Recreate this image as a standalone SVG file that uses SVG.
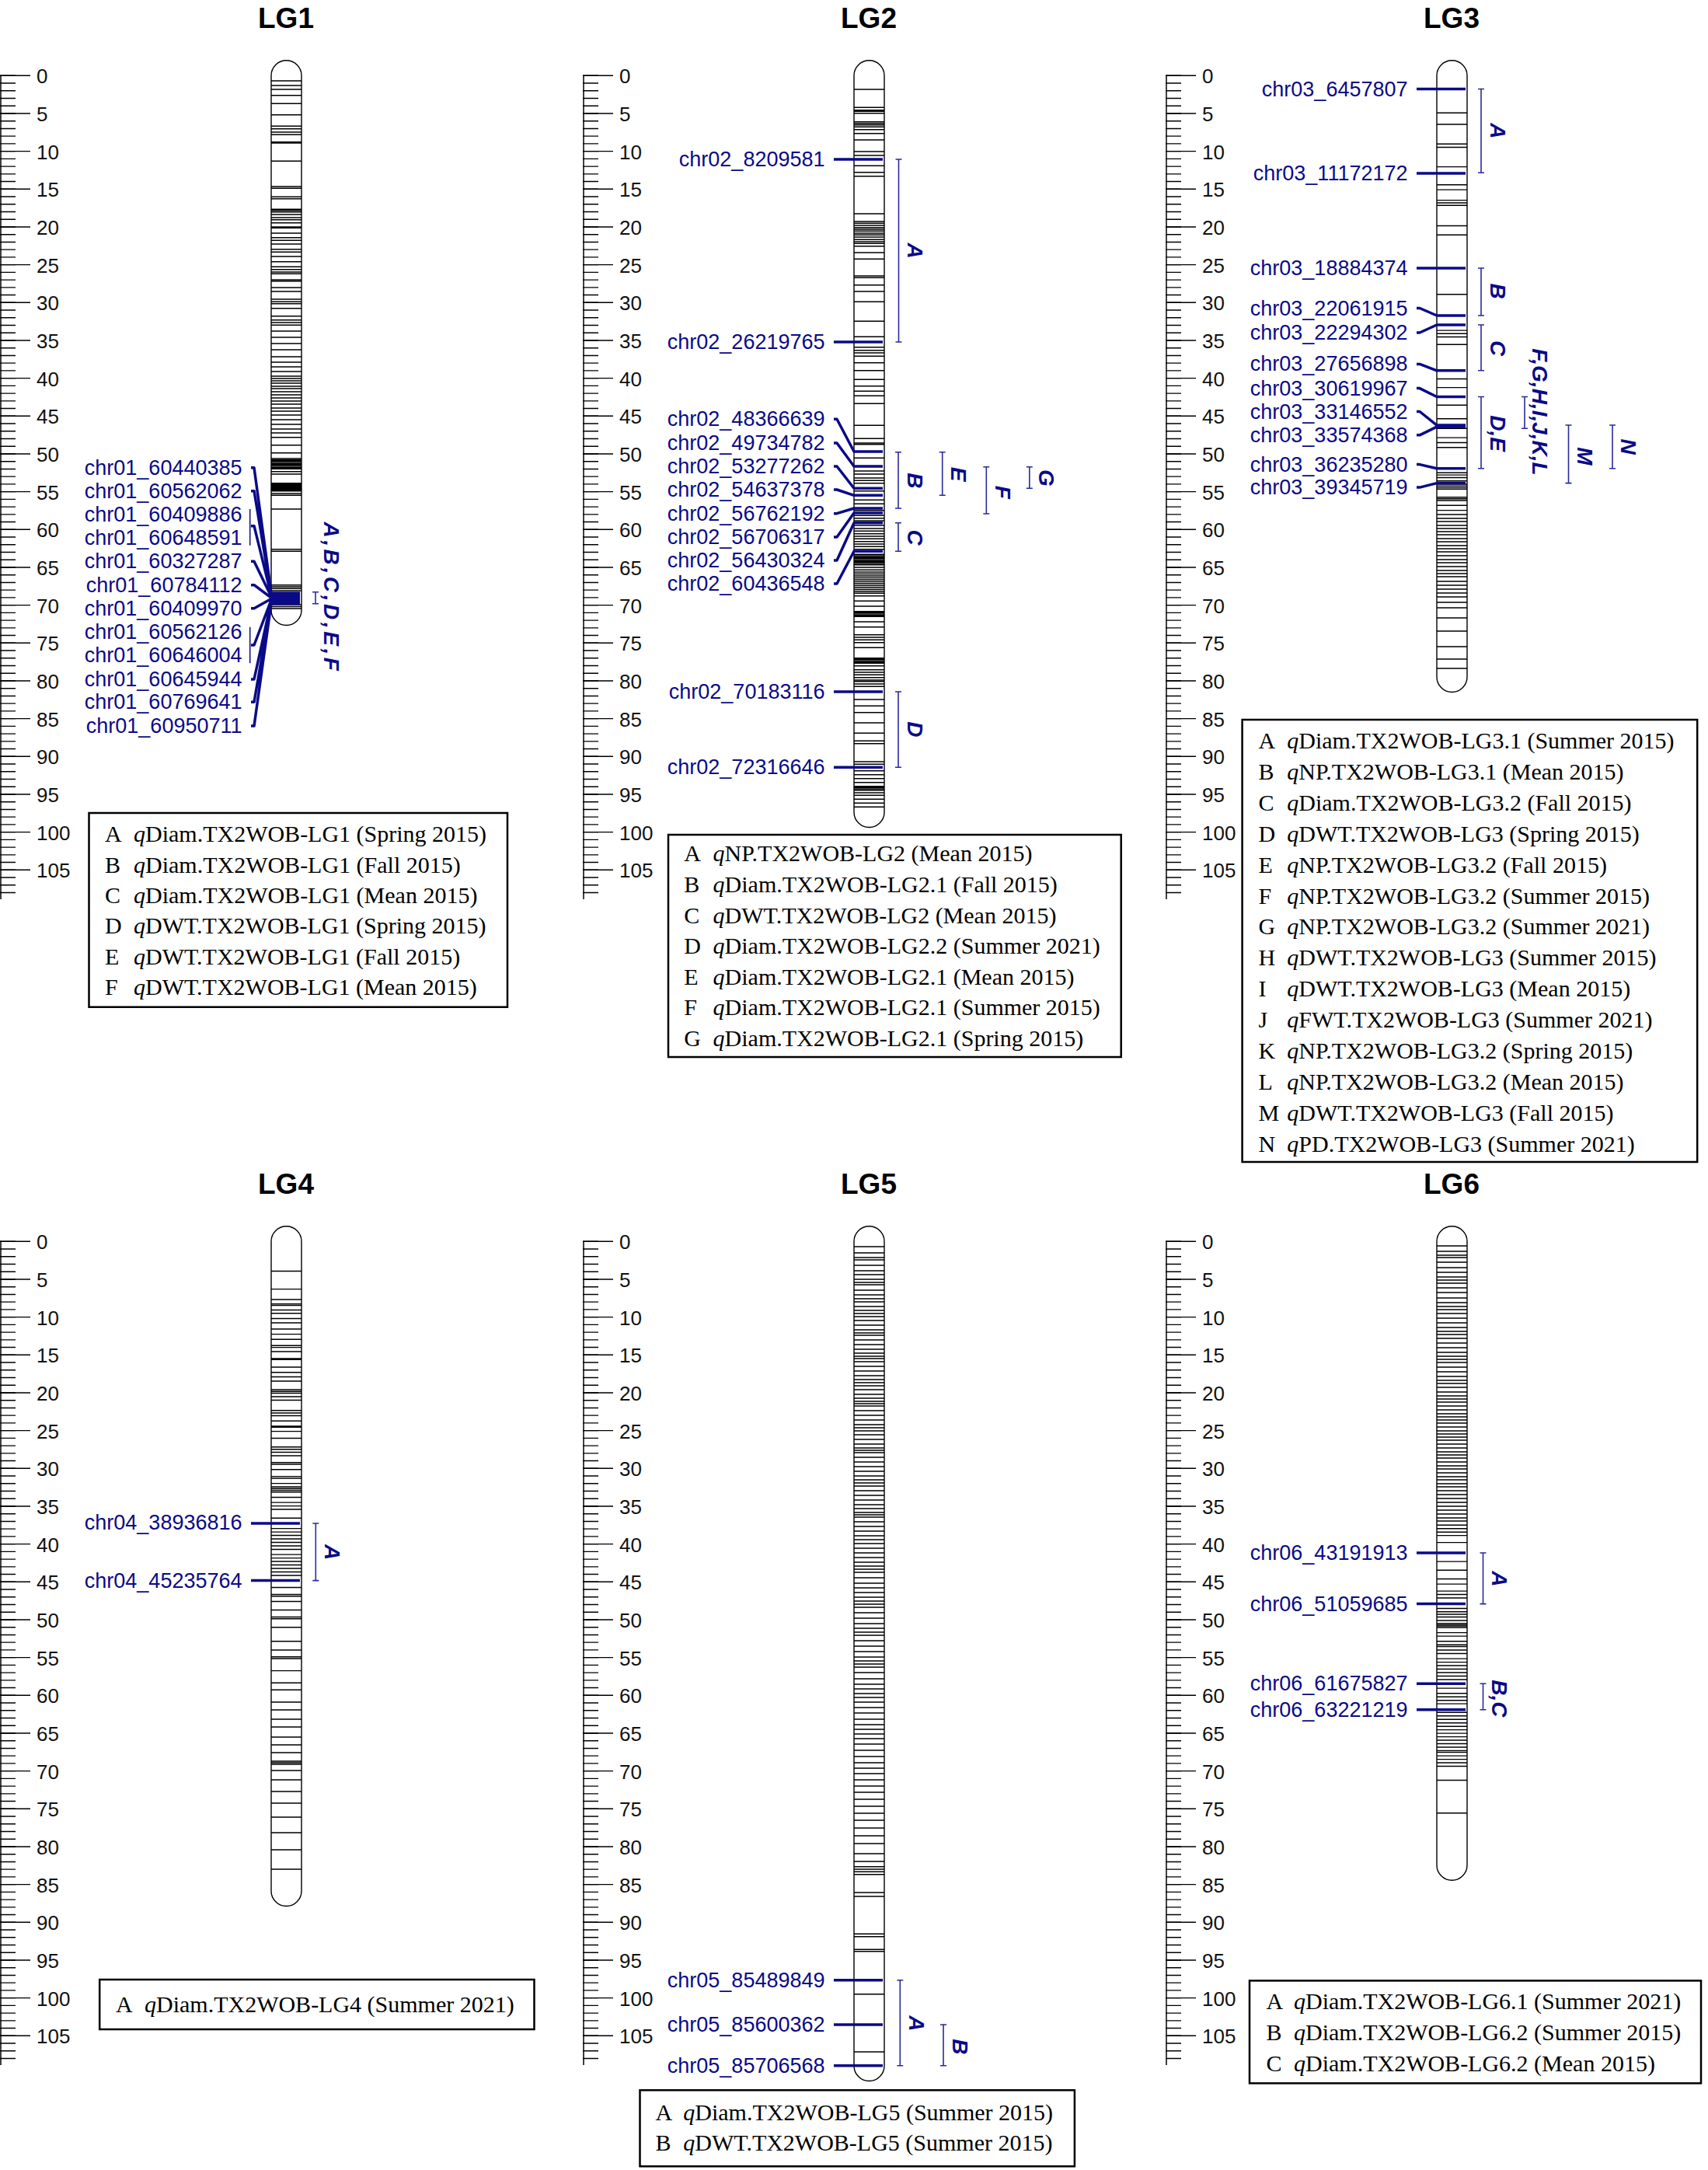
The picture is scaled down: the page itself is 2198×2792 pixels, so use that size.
<svg xmlns="http://www.w3.org/2000/svg" width="2198" height="2792" viewBox="0 0 2198 2792">
<style>
.ttl{font-family:'Liberation Sans',Arial,sans-serif;font-weight:bold;font-size:37px;text-anchor:middle;fill:#000}
.rl{font-family:'Liberation Sans',Arial,sans-serif;font-size:26px;fill:#111}
.axis{stroke:#000;stroke-width:1.5;fill:none}
.minor{stroke:#000;stroke-width:20;stroke-dasharray:1.4 8.3333;fill:none}
.major{stroke:#000;stroke-width:39;stroke-dasharray:1.4 47.2667;fill:none}
.chr{fill:#fff;stroke:#000;stroke-width:1.4}
.band{stroke:#000;stroke-width:1.45;fill:none}
.mk{font-family:'Liberation Sans',Arial,sans-serif;font-size:27px;fill:#0a0a88;text-anchor:end}
.con{stroke:#0a0a88;stroke-width:3.5;fill:none;stroke-linejoin:round}
.thin{stroke:#0a0a88;stroke-width:1.5;fill:none}
.br{stroke:#2a2a9e;stroke-width:1.6;fill:none}
.ql{font-family:'Liberation Sans',Arial,sans-serif;font-weight:bold;font-style:italic;font-size:28px;fill:#0a0a88;text-anchor:middle}
.box{fill:#fff;stroke:#000;stroke-width:2.5}
.lg{font-family:'Liberation Serif','Times New Roman',serif;font-size:30px;fill:#000}
.it{font-style:italic}
</style>
<rect width="2198" height="2792" fill="#fff"/>

<!-- ================= LG1 ================= -->
<g id="LG1" transform="translate(0,0)">
<g id="lg1-scale">
<path class="axis" d="M1 97.3V1157"/><line class="minor" x1="10" y1="96.6" x2="10" y2="1150"/><line class="major" x1="19.5" y1="96.6" x2="19.5" y2="1125"/>
<text class="rl" x="47" y="107.3">0</text><text class="rl" x="47" y="156">5</text><text class="rl" x="47" y="204.6">10</text><text class="rl" x="47" y="253.3">15</text><text class="rl" x="47" y="302">20</text><text class="rl" x="47" y="350.6">25</text><text class="rl" x="47" y="399.3">30</text><text class="rl" x="47" y="448">35</text><text class="rl" x="47" y="496.6">40</text><text class="rl" x="47" y="545.3">45</text><text class="rl" x="47" y="594">50</text><text class="rl" x="47" y="642.6">55</text><text class="rl" x="47" y="691.3">60</text><text class="rl" x="47" y="740">65</text><text class="rl" x="47" y="788.6">70</text><text class="rl" x="47" y="837.3">75</text><text class="rl" x="47" y="886">80</text><text class="rl" x="47" y="934.6">85</text><text class="rl" x="47" y="983.3">90</text><text class="rl" x="47" y="1032">95</text><text class="rl" x="47" y="1080.6">100</text><text class="rl" x="47" y="1129.3">105</text>
</g>
<text class="ttl" x="368" y="36">LG1</text>
<g id="lg1-chromosome">
<path class="chr" d="M349 97.3V785A19.5 19.5 0 0 0 388 785V97.3A19.5 19.5 0 0 0 349 97.3Z"/>
<path class="band" d="M349 104h39M349 110h39M349 115h39M349 122.7h39M349 133.3h39M349 147.7h39M349 162.3h39M349 165.7h39M349 170h39M349 173.3h39M349 182.7h39M349 184h39M349 207.3h39M349 240h39M349 242.3h39M349 253.3h39M349 255.7h39M349 269.3h39M349 270.7h39M349 272.7h39M349 276h39M349 280h39M349 282.7h39M349 286.7h39M349 292h39M349 293.3h39M349 300h39M349 305.7h39M349 309.3h39M349 314h39M349 320.7h39M349 324.3h39M349 330h39M349 336.7h39M349 343.3h39M349 346.7h39M349 350h39M349 352.3h39M349 360h39M349 361.7h39M349 370h39M349 375h39M349 385h39M349 388.3h39M349 390.7h39M349 396.7h39M349 406.7h39M349 411.7h39M349 415h39M349 418.3h39M349 426h39M349 434h39M349 442h39M349 450h39M349 459h39M349 466h39M349 472h39M349 478h39M349 484h39M349 487h39M349 490h39M349 493h39M349 497h39M349 500h39M349 504h39M349 508h39M349 512h39M349 516h39M349 520h39M349 525h39M349 529h39M349 534h39M349 540h39M349 546h39M349 552h39M349 557h39M349 562.7h39M349 572.7h39M349 582.7h39M349 590h39M349 591.7h39M349 593.3h39M349 595h39M349 596.7h39M349 598.3h39M349 600h39M349 601.7h39M349 603.3h39M349 606.7h39M349 610h39M349 621.7h39M349 623.2h39M349 624.7h39M349 626.2h39M349 627.7h39M349 629.2h39M349 630.7h39M349 631.7h39M349 635h39M349 637.3h39M349 655h39M349 706.7h39M349 709.3h39M349 752.7h39M349 755h39M349 757.3h39M349 760h39M349 778h39M349 780.5h39M349 783h39"/>
</g>
<g id="lg1-markers">
<text class="mk" x="311.5" y="610.7">chr01_60440385</text><text class="mk" x="311.5" y="640.7">chr01_60562062</text><text class="mk" x="311.5" y="670.7">chr01_60409886</text><text class="mk" x="311.5" y="700.7">chr01_60648591</text><text class="mk" x="311.5" y="731.3">chr01_60327287</text><text class="mk" x="311.5" y="761.7">chr01_60784112</text><text class="mk" x="311.5" y="791.7">chr01_60409970</text><text class="mk" x="311.5" y="822.3">chr01_60562126</text><text class="mk" x="311.5" y="852.3">chr01_60646004</text><text class="mk" x="311.5" y="883">chr01_60645944</text><text class="mk" x="311.5" y="912.3">chr01_60769641</text><text class="mk" x="311.5" y="943">chr01_60950711</text>
</g>
<g id="lg1-connectors">
<path class="thin" d="M321.7 655V701.7M321.7 806.7V853.3"/>
<path class="con" d="M323 601.7H327L349 763H386M323 631.7H327L349 764.5H386M323 676.7H327L349 766H386M323 722.3H327L349 767.5H386M323 752.7H327L349 769H386M323 782.7H327L349 770.5H386M323 830H327L349 772H386M323 874H327L349 773.5H386M323 903.3H327L349 775H386M323 934H327L349 776.5H386"/>
</g>
<g id="lg1-qtl">
<path class="br" d="M402 761.7h8M406 761.7V776.7M402 776.7h8"/>
<text class="ql" x="417" y="769" letter-spacing="3.6" transform="rotate(90 417 769)">A,B,C,D,E,F</text>
</g>
<g id="lg1-legend">
<rect class="box" x="114.5" y="1046" width="538.5" height="249.7"/>
<text class="lg" x="135" y="1083.3">A</text><text class="lg" x="172" y="1083.3"><tspan class="it">q</tspan>Diam.TX2WOB-LG1 (Spring 2015)</text>
<text class="lg" x="135" y="1122.6">B</text><text class="lg" x="172" y="1122.6"><tspan class="it">q</tspan>Diam.TX2WOB-LG1 (Fall 2015)</text>
<text class="lg" x="135" y="1161.9">C</text><text class="lg" x="172" y="1161.9"><tspan class="it">q</tspan>Diam.TX2WOB-LG1 (Mean 2015)</text>
<text class="lg" x="135" y="1201.2">D</text><text class="lg" x="172" y="1201.2"><tspan class="it">q</tspan>DWT.TX2WOB-LG1 (Spring 2015)</text>
<text class="lg" x="135" y="1240.5">E</text><text class="lg" x="172" y="1240.5"><tspan class="it">q</tspan>DWT.TX2WOB-LG1 (Fall 2015)</text>
<text class="lg" x="135" y="1279.8">F</text><text class="lg" x="172" y="1279.8"><tspan class="it">q</tspan>DWT.TX2WOB-LG1 (Mean 2015)</text>
</g>
</g>

<!-- ================= LG2 ================= -->
<g id="LG2" transform="translate(750,0)">
<g id="lg2-scale">
<path class="axis" d="M1 97.3V1157"/><line class="minor" x1="10" y1="96.6" x2="10" y2="1150"/><line class="major" x1="19.5" y1="96.6" x2="19.5" y2="1125"/>
<text class="rl" x="47" y="107.3">0</text><text class="rl" x="47" y="156">5</text><text class="rl" x="47" y="204.6">10</text><text class="rl" x="47" y="253.3">15</text><text class="rl" x="47" y="302">20</text><text class="rl" x="47" y="350.6">25</text><text class="rl" x="47" y="399.3">30</text><text class="rl" x="47" y="448">35</text><text class="rl" x="47" y="496.6">40</text><text class="rl" x="47" y="545.3">45</text><text class="rl" x="47" y="594">50</text><text class="rl" x="47" y="642.6">55</text><text class="rl" x="47" y="691.3">60</text><text class="rl" x="47" y="740">65</text><text class="rl" x="47" y="788.6">70</text><text class="rl" x="47" y="837.3">75</text><text class="rl" x="47" y="886">80</text><text class="rl" x="47" y="934.6">85</text><text class="rl" x="47" y="983.3">90</text><text class="rl" x="47" y="1032">95</text><text class="rl" x="47" y="1080.6">100</text><text class="rl" x="47" y="1129.3">105</text>
</g>
<text class="ttl" x="368" y="36">LG2</text>
<g id="lg2-chromosome">
<path class="chr" d="M349 97.3V1045A19.5 19.5 0 0 0 388 1045V97.3A19.5 19.5 0 0 0 349 97.3Z"/>
<path class="band" d="M349 115h39M349 138.3h39M349 141.7h39M349 143.3h39M349 145.7h39M349 156.7h39M349 158.7h39M349 160.7h39M349 163.3h39M349 166.7h39M349 171.7h39M349 180h39M349 195h39M349 200h39M349 213.3h39M349 221.7h39M349 226.7h39M349 275h39M349 285h39M349 287.3h39M349 290h39M349 292.7h39M349 295h39M349 297.3h39M349 300h39M349 302.3h39M349 305h39M349 308.3h39M349 311h39M349 313.3h39M349 316.7h39M349 325h39M349 333.3h39M349 355h39M349 357.3h39M349 366.7h39M349 375h39M349 388.3h39M349 413.3h39M349 433.3h39M349 446.7h39M349 450.7h39M349 454h39M349 458.3h39M349 466.7h39M349 476.7h39M349 488.3h39M349 496.7h39M349 503.3h39M349 509.3h39M349 519.3h39M349 547.3h39M349 564.3h39M349 570h39M349 571.7h39M349 589.3h39M349 606h39M349 610h39M349 615h39M349 618.3h39M349 621.7h39M349 631.7h39M349 643.3h39M349 648.3h39M349 656.7h39M349 663.3h39M349 666.7h39M349 670h39M349 676h39M349 680h39M349 683.3h39M349 686.7h39M349 690h39M349 693.3h39M349 696.7h39M349 700h39M349 703.3h39M349 706.7h39M349 713.3h39M349 715h39M349 716.7h39M349 718.3h39M349 720h39M349 721.7h39M349 723.3h39M349 725h39M349 726.7h39M349 730h39M349 733.3h39M349 736h39M349 738.5h39M349 741h39M349 743.5h39M349 746h39M349 748.5h39M349 751h39M349 753.5h39M349 756h39M349 758.5h39M349 761h39M349 763.3h39M349 766.7h39M349 773.3h39M349 780h39M349 786.7h39M349 788.3h39M349 790h39M349 791.7h39M349 793.3h39M349 800h39M349 806.7h39M349 816.7h39M349 820h39M349 823.3h39M349 826.7h39M349 833.3h39M349 846.7h39M349 848.3h39M349 850h39M349 851.7h39M349 853.3h39M349 856.7h39M349 861.7h39M349 865h39M349 868.3h39M349 871.7h39M349 875h39M349 876.7h39M349 880h39M349 883.3h39M349 900h39M349 908.3h39M349 916.7h39M349 930h39M349 943.3h39M349 953.3h39M349 956.7h39M349 980h39M349 983.3h39M349 991.7h39M349 996.7h39M349 1001.7h39M349 1006.7h39M349 1011.7h39M349 1013.3h39M349 1015h39M349 1016.7h39M349 1020h39M349 1023.3h39M349 1028.3h39M349 1033.3h39M349 1038.3h39"/>
</g>
<g id="lg2-markers">
<text class="mk" x="311.5" y="214">chr02_8209581</text><text class="mk" x="311.5" y="449">chr02_26219765</text><text class="mk" x="311.5" y="548.3">chr02_48366639</text><text class="mk" x="311.5" y="579">chr02_49734782</text><text class="mk" x="311.5" y="609">chr02_53277262</text><text class="mk" x="311.5" y="639">chr02_54637378</text><text class="mk" x="311.5" y="669.7">chr02_56762192</text><text class="mk" x="311.5" y="700">chr02_56706317</text><text class="mk" x="311.5" y="730">chr02_56430324</text><text class="mk" x="311.5" y="760">chr02_60436548</text><text class="mk" x="311.5" y="899">chr02_70183116</text><text class="mk" x="311.5" y="996.3">chr02_72316646</text>
</g>
<g id="lg2-connectors">
<path class="con" d="M323 205H386M323 440H386M323 539.3H327L349 581H386M323 570H327L349 600H386M323 600H327L349 628.3H386M323 630H327L349 637.3H386M323 660.7H327L349 654H386M323 691H327L349 660H386M323 721H327L349 672.7H386M323 751H327L349 709.3H386M323 890H386M323 987.3H386"/>
</g>
<g id="lg2-qtl">
<path class="br" d="M402.5 205h8M406.5 205V440M402.5 440h8M402 581.7h8M406 581.7V654M402 654h8M402 672.7h8M406 672.7V709.3M402 709.3h8M402 890h8M406 890V987.3M402 987.3h8M458.7 581.7h8M462.7 581.7V637.3M458.7 637.3h8M515.3 600.7h8M519.3 600.7V661M515.3 661h8M570.8 600.7h8M574.8 600.7V628.3M570.8 628.3h8"/>
<text class="ql" x="418" y="322.5" transform="rotate(90 418 322.5)">A</text>
<text class="ql" x="417.5" y="618.3" transform="rotate(90 417.5 618.3)">B</text>
<text class="ql" x="417.5" y="691.7" transform="rotate(90 417.5 691.7)">C</text>
<text class="ql" x="417.5" y="938.3" transform="rotate(90 417.5 938.3)">D</text>
<text class="ql" x="474" y="610" transform="rotate(90 474 610)">E</text>
<text class="ql" x="531" y="633.3" transform="rotate(90 531 633.3)">F</text>
<text class="ql" x="586.5" y="615" transform="rotate(90 586.5 615)">G</text>
</g>
<g id="lg2-legend">
<rect class="box" x="110" y="1074" width="582.7" height="286"/>
<text class="lg" x="130.2" y="1108.3">A</text><text class="lg" x="167.6" y="1108.3"><tspan class="it">q</tspan>NP.TX2WOB-LG2 (Mean 2015)</text>
<text class="lg" x="130.2" y="1147.9">B</text><text class="lg" x="167.6" y="1147.9"><tspan class="it">q</tspan>Diam.TX2WOB-LG2.1 (Fall 2015)</text>
<text class="lg" x="130.2" y="1187.5">C</text><text class="lg" x="167.6" y="1187.5"><tspan class="it">q</tspan>DWT.TX2WOB-LG2 (Mean 2015)</text>
<text class="lg" x="130.2" y="1227.1">D</text><text class="lg" x="167.6" y="1227.1"><tspan class="it">q</tspan>Diam.TX2WOB-LG2.2 (Summer 2021)</text>
<text class="lg" x="130.2" y="1266.7">E</text><text class="lg" x="167.6" y="1266.7"><tspan class="it">q</tspan>Diam.TX2WOB-LG2.1 (Mean 2015)</text>
<text class="lg" x="130.2" y="1306.3">F</text><text class="lg" x="167.6" y="1306.3"><tspan class="it">q</tspan>Diam.TX2WOB-LG2.1 (Summer 2015)</text>
<text class="lg" x="130.2" y="1345.9">G</text><text class="lg" x="167.6" y="1345.9"><tspan class="it">q</tspan>Diam.TX2WOB-LG2.1 (Spring 2015)</text>
</g>
</g>

<!-- ================= LG3 ================= -->
<g id="LG3" transform="translate(1500,0)">
<g id="lg3-scale">
<path class="axis" d="M1 97.3V1157"/><line class="minor" x1="10" y1="96.6" x2="10" y2="1150"/><line class="major" x1="19.5" y1="96.6" x2="19.5" y2="1125"/>
<text class="rl" x="47" y="107.3">0</text><text class="rl" x="47" y="156">5</text><text class="rl" x="47" y="204.6">10</text><text class="rl" x="47" y="253.3">15</text><text class="rl" x="47" y="302">20</text><text class="rl" x="47" y="350.6">25</text><text class="rl" x="47" y="399.3">30</text><text class="rl" x="47" y="448">35</text><text class="rl" x="47" y="496.6">40</text><text class="rl" x="47" y="545.3">45</text><text class="rl" x="47" y="594">50</text><text class="rl" x="47" y="642.6">55</text><text class="rl" x="47" y="691.3">60</text><text class="rl" x="47" y="740">65</text><text class="rl" x="47" y="788.6">70</text><text class="rl" x="47" y="837.3">75</text><text class="rl" x="47" y="886">80</text><text class="rl" x="47" y="934.6">85</text><text class="rl" x="47" y="983.3">90</text><text class="rl" x="47" y="1032">95</text><text class="rl" x="47" y="1080.6">100</text><text class="rl" x="47" y="1129.3">105</text>
</g>
<text class="ttl" x="368" y="36">LG3</text>
<g id="lg3-chromosome">
<path class="chr" d="M349 97.3V871A19.5 19.5 0 0 0 388 871V97.3A19.5 19.5 0 0 0 349 97.3Z"/>
<path class="band" d="M349 145.2h39M349 159.9h39M349 185.2h39M349 189.4h39M349 214.6h39M349 237.8h39M349 244.1h39M349 257.6h39M349 260.9h39M349 264.3h39M349 290.4h39M349 302.2h39M349 378.8h39M349 425.1h39M349 429.3h39M349 433.5h39M349 443.2h39M349 487.4h39M349 498.6h39M349 521.3h39M349 538.7h39M349 551.3h39M349 563.1h39M349 569.4h39M349 575.8h39M349 608.2h39M349 611.1h39M349 614.5h39M349 618.7h39M349 623h39M349 625.1h39M349 627.1h39M349 629.2h39M349 639.7h39M349 641.8h39M349 644h39M349 650.3h39M349 656.6h39M349 662h39M349 667h39M349 671h39M349 676h39M349 680h39M349 684h39M349 688h39M349 693h39M349 697h39M349 702h39M349 706h39M349 710h39M349 715h39M349 720h39M349 724h39M349 729h39M349 734h39M349 738h39M349 742h39M349 748h39M349 753h39M349 758h39M349 763h39M349 768h39M349 775h39M349 782h39M349 795h39M349 812h39M349 832h39M349 848h39M349 860h39"/>
</g>
<g id="lg3-markers">
<text class="mk" x="311.5" y="123.5">chr03_6457807</text><text class="mk" x="311.5" y="232">chr03_11172172</text><text class="mk" x="311.5" y="354">chr03_18884374</text><text class="mk" x="311.5" y="405.5">chr03_22061915</text><text class="mk" x="311.5" y="437">chr03_22294302</text><text class="mk" x="311.5" y="477.4">chr03_27656898</text><text class="mk" x="311.5" y="508.6">chr03_30619967</text><text class="mk" x="311.5" y="538.5">chr03_33146552</text><text class="mk" x="311.5" y="568.8">chr03_33574368</text><text class="mk" x="311.5" y="606.6">chr03_36235280</text><text class="mk" x="311.5" y="636.1">chr03_39345719</text>
</g>
<g id="lg3-connectors">
<path class="con" d="M323 114.5H386M323 223H386M323 345H386M323 396.5H327L349 406H386M323 428H327L349 418H386M323 468.4H327L349 476.8H386M323 499.6H327L349 510.5H386M323 529.5H327L349 547.1H386M323 559.8H327L349 549.2H386M323 597.6H327L349 602.7H386M323 627.1H327L349 621.6H386"/>
</g>
<g id="lg3-qtl">
<path class="br" d="M402 114.5h8M406 114.5V222.2M402 222.2h8M402 345h8M406 345V406M402 406h8M402 418h8M406 418V476.8M402 476.8h8M402 510.5h8M406 510.5V602.7M402 602.7h8M458 510.5h8M462 510.5V551.3M458 551.3h8M514.5 547h8M518.5 547V621.6M514.5 621.6h8M571 547h8M575 547V602.7M571 602.7h8"/>
<text class="ql" x="417.5" y="168.4" transform="rotate(90 417.5 168.4)">A</text>
<text class="ql" x="417.5" y="374.6" transform="rotate(90 417.5 374.6)">B</text>
<text class="ql" x="417.5" y="448" transform="rotate(90 417.5 448)">C</text>
<text class="ql" x="417.5" y="557.7" transform="rotate(90 417.5 557.7)">D,E</text>
<text class="ql" x="472" y="530" transform="rotate(90 472 530)">F,G,H,I,J,K,L</text>
<text class="ql" x="529.5" y="587" transform="rotate(90 529.5 587)">M</text>
<text class="ql" x="586" y="574.5" transform="rotate(90 586 574.5)">N</text>
</g>
<g id="lg3-legend">
<rect class="box" x="98.6" y="926" width="585.6" height="569"/>
<text class="lg" x="119.5" y="963">A</text><text class="lg" x="156.3" y="963"><tspan class="it">q</tspan>Diam.TX2WOB-LG3.1 (Summer 2015)</text>
<text class="lg" x="119.5" y="1002.9">B</text><text class="lg" x="156.3" y="1002.9"><tspan class="it">q</tspan>NP.TX2WOB-LG3.1 (Mean 2015)</text>
<text class="lg" x="119.5" y="1042.8">C</text><text class="lg" x="156.3" y="1042.8"><tspan class="it">q</tspan>Diam.TX2WOB-LG3.2 (Fall 2015)</text>
<text class="lg" x="119.5" y="1082.7">D</text><text class="lg" x="156.3" y="1082.7"><tspan class="it">q</tspan>DWT.TX2WOB-LG3 (Spring 2015)</text>
<text class="lg" x="119.5" y="1122.6">E</text><text class="lg" x="156.3" y="1122.6"><tspan class="it">q</tspan>NP.TX2WOB-LG3.2 (Fall 2015)</text>
<text class="lg" x="119.5" y="1162.5">F</text><text class="lg" x="156.3" y="1162.5"><tspan class="it">q</tspan>NP.TX2WOB-LG3.2 (Summer 2015)</text>
<text class="lg" x="119.5" y="1202.4">G</text><text class="lg" x="156.3" y="1202.4"><tspan class="it">q</tspan>NP.TX2WOB-LG3.2 (Summer 2021)</text>
<text class="lg" x="119.5" y="1242.3">H</text><text class="lg" x="156.3" y="1242.3"><tspan class="it">q</tspan>DWT.TX2WOB-LG3 (Summer 2015)</text>
<text class="lg" x="119.5" y="1282.2">I</text><text class="lg" x="156.3" y="1282.2"><tspan class="it">q</tspan>DWT.TX2WOB-LG3 (Mean 2015)</text>
<text class="lg" x="119.5" y="1322.1">J</text><text class="lg" x="156.3" y="1322.1"><tspan class="it">q</tspan>FWT.TX2WOB-LG3 (Summer 2021)</text>
<text class="lg" x="119.5" y="1362">K</text><text class="lg" x="156.3" y="1362"><tspan class="it">q</tspan>NP.TX2WOB-LG3.2 (Spring 2015)</text>
<text class="lg" x="119.5" y="1401.9">L</text><text class="lg" x="156.3" y="1401.9"><tspan class="it">q</tspan>NP.TX2WOB-LG3.2 (Mean 2015)</text>
<text class="lg" x="119.5" y="1441.8">M</text><text class="lg" x="156.3" y="1441.8"><tspan class="it">q</tspan>DWT.TX2WOB-LG3 (Fall 2015)</text>
<text class="lg" x="119.5" y="1481.7">N</text><text class="lg" x="156.3" y="1481.7"><tspan class="it">q</tspan>PD.TX2WOB-LG3 (Summer 2021)</text>
</g>
</g>

<!-- ================= LG4 ================= -->
<g id="LG4" transform="translate(0,1500)">
<g id="lg4-scale">
<path class="axis" d="M1 97.3V1157"/><line class="minor" x1="10" y1="96.6" x2="10" y2="1150"/><line class="major" x1="19.5" y1="96.6" x2="19.5" y2="1125"/>
<text class="rl" x="47" y="107.3">0</text><text class="rl" x="47" y="156">5</text><text class="rl" x="47" y="204.6">10</text><text class="rl" x="47" y="253.3">15</text><text class="rl" x="47" y="302">20</text><text class="rl" x="47" y="350.6">25</text><text class="rl" x="47" y="399.3">30</text><text class="rl" x="47" y="448">35</text><text class="rl" x="47" y="496.6">40</text><text class="rl" x="47" y="545.3">45</text><text class="rl" x="47" y="594">50</text><text class="rl" x="47" y="642.6">55</text><text class="rl" x="47" y="691.3">60</text><text class="rl" x="47" y="740">65</text><text class="rl" x="47" y="788.6">70</text><text class="rl" x="47" y="837.3">75</text><text class="rl" x="47" y="886">80</text><text class="rl" x="47" y="934.6">85</text><text class="rl" x="47" y="983.3">90</text><text class="rl" x="47" y="1032">95</text><text class="rl" x="47" y="1080.6">100</text><text class="rl" x="47" y="1129.3">105</text>
</g>
<text class="ttl" x="368" y="36">LG4</text>
<g id="lg4-chromosome">
<path class="chr" d="M349 97.3V933A19.5 19.5 0 0 0 388 933V97.3A19.5 19.5 0 0 0 349 97.3Z"/>
<path class="band" d="M349 135.4h39M349 158.6h39M349 172h39M349 177.8h39M349 179.6h39M349 185.4h39M349 189.8h39M349 196.5h39M349 201.9h39M349 209.9h39M349 216.6h39M349 223.3h39M349 231.3h39M349 233.6h39M349 238.9h39M349 247.9h39M349 249.2h39M349 259h39M349 265.7h39M349 271.5h39M349 276.9h39M349 288h39M349 290.3h39M349 292.5h39M349 297h39M349 301.4h39M349 314.8h39M349 318h39M349 321.5h39M349 328.2h39M349 334.9h39M349 336.3h39M349 341.6h39M349 350.5h39M349 361.7h39M349 364.8h39M349 368.4h39M349 372.9h39M349 381.8h39M349 384h39M349 390.7h39M349 399.6h39M349 401.9h39M349 408.6h39M349 413h39M349 415.3h39M349 417.5h39M349 419.7h39M349 426.4h39M349 433.1h39M349 437.6h39M349 442h39M349 453.2h39M349 466.6h39M349 471.1h39M349 475.5h39M349 480h39M349 484.5h39M349 488.9h39M349 493.4h39M349 500.1h39M349 504.6h39M349 509h39M349 513.5h39M349 518h39M349 522.4h39M349 526.9h39M349 542.5h39M349 551.4h39M349 553.7h39M349 560.4h39M349 571.5h39M349 580.4h39M349 582.7h39M349 593.8h39M349 611.7h39M349 622.9h39M349 631.8h39M349 634h39M349 649.6h39M349 665.3h39M349 674.2h39M349 690h39M349 700h39M349 712h39M349 722h39M349 735h39M349 745h39M349 755h39M349 766h39M349 768h39M349 770h39M349 778h39M349 790h39M349 805h39M349 820h39M349 838h39M349 858h39M349 880h39M349 905h39"/>
</g>
<g id="lg4-markers">
<text class="mk" x="311.5" y="468">chr04_38936816</text><text class="mk" x="311.5" y="542.6">chr04_45235764</text>
</g>
<g id="lg4-connectors">
<path class="con" d="M323 460H386M323 533.6H386"/>
</g>
<g id="lg4-qtl">
<path class="br" d="M402.3 460h8M406.3 460V533.6M402.3 533.6h8"/>
<text class="ql" x="418" y="497" transform="rotate(90 418 497)">A</text>
</g>
<g id="lg4-legend">
<rect class="box" x="128.2" y="1047" width="559.3" height="64"/>
<text class="lg" x="149" y="1089">A</text><text class="lg" x="186" y="1089"><tspan class="it">q</tspan>Diam.TX2WOB-LG4 (Summer 2021)</text>
</g>
</g>

<!-- ================= LG5 ================= -->
<g id="LG5" transform="translate(750,1500)">
<g id="lg5-scale">
<path class="axis" d="M1 97.3V1157"/><line class="minor" x1="10" y1="96.6" x2="10" y2="1150"/><line class="major" x1="19.5" y1="96.6" x2="19.5" y2="1125"/>
<text class="rl" x="47" y="107.3">0</text><text class="rl" x="47" y="156">5</text><text class="rl" x="47" y="204.6">10</text><text class="rl" x="47" y="253.3">15</text><text class="rl" x="47" y="302">20</text><text class="rl" x="47" y="350.6">25</text><text class="rl" x="47" y="399.3">30</text><text class="rl" x="47" y="448">35</text><text class="rl" x="47" y="496.6">40</text><text class="rl" x="47" y="545.3">45</text><text class="rl" x="47" y="594">50</text><text class="rl" x="47" y="642.6">55</text><text class="rl" x="47" y="691.3">60</text><text class="rl" x="47" y="740">65</text><text class="rl" x="47" y="788.6">70</text><text class="rl" x="47" y="837.3">75</text><text class="rl" x="47" y="886">80</text><text class="rl" x="47" y="934.6">85</text><text class="rl" x="47" y="983.3">90</text><text class="rl" x="47" y="1032">95</text><text class="rl" x="47" y="1080.6">100</text><text class="rl" x="47" y="1129.3">105</text>
</g>
<text class="ttl" x="368" y="36">LG5</text>
<g id="lg5-chromosome">
<path class="chr" d="M349 97.3V1158A19.5 19.5 0 0 0 388 1158V97.3A19.5 19.5 0 0 0 349 97.3Z"/>
<path class="band" d="M349 104h39M349 112h39M349 118h39M349 121h39M349 128h39M349 135h39M349 140h39M349 146h39M349 150h39M349 153h39M349 160h39M349 166h39M349 171h39M349 175h39M349 181h39M349 186h39M349 190h39M349 194h39M349 199h39M349 205h39M349 211h39M349 215h39M349 218h39M349 224h39M349 230h39M349 236h39M349 241h39M349 245h39M349 248h39M349 252h39M349 258h39M349 264h39M349 270h39M349 275h39M349 279h39M349 283h39M349 288h39M349 294h39M349 299h39M349 303h39M349 306h39M349 309h39M349 315h39M349 321h39M349 327h39M349 333h39M349 337h39M349 341h39M349 346h39M349 352h39M349 358h39M349 363h39M349 366h39M349 369h39M349 375h39M349 381h39M349 387h39M349 393h39M349 399h39M349 404h39M349 408h39M349 412h39M349 418h39M349 424h39M349 430h39M349 436h39M349 441h39M349 446h39M349 449h39M349 452h39M349 458h39M349 464h39M349 470h39M349 476h39M349 481h39M349 486h39M349 492h39M349 498h39M349 504h39M349 510h39M349 515h39M349 519h39M349 523h39M349 530h39M349 537h39M349 543h39M349 549h39M349 555h39M349 560h39M349 564h39M349 568h39M349 575h39M349 582h39M349 589h39M349 595h39M349 600h39M349 604h39M349 611h39M349 618h39M349 625h39M349 632h39M349 637h39M349 641h39M349 645h39M349 652h39M349 660h39M349 667h39M349 673h39M349 679h39M349 684h39M349 690h39M349 697h39M349 704h39M349 712h39M349 719h39M349 725h39M349 731h39M349 737h39M349 744h39M349 752h39M349 760h39M349 768h39M349 775h39M349 782h39M349 790h39M349 798h39M349 806h39M349 815h39M349 824h39M349 833h39M349 842h39M349 852h39M349 862h39M349 872h39M349 885h39M349 895h39M349 901.7h39M349 905h39M349 908.3h39M349 911.7h39M349 935h39M349 940h39M349 988.3h39M349 991.7h39M349 1008.3h39M349 1010.7h39M349 1065.7h39M349 1140h39"/>
</g>
<g id="lg5-markers">
<text class="mk" x="311.5" y="1056.7">chr05_85489849</text><text class="mk" x="311.5" y="1114">chr05_85600362</text><text class="mk" x="311.5" y="1166.7">chr05_85706568</text>
</g>
<g id="lg5-connectors">
<path class="con" d="M323 1047.7H386M323 1105H386M323 1157.7H386"/>
</g>
<g id="lg5-qtl">
<path class="br" d="M404.3 1047.7h8M408.3 1047.7V1157.7M404.3 1157.7h8M460 1105h8M464 1105V1157.7M460 1157.7h8"/>
<text class="ql" x="420" y="1103.3" transform="rotate(90 420 1103.3)">A</text>
<text class="ql" x="476" y="1133.3" transform="rotate(90 476 1133.3)">B</text>
</g>
<g id="lg5-legend">
<rect class="box" x="73.5" y="1189.3" width="559.4" height="98"/>
<text class="lg" x="93.6" y="1228.3">A</text><text class="lg" x="129.3" y="1228.3"><tspan class="it">q</tspan>Diam.TX2WOB-LG5 (Summer 2015)</text>
<text class="lg" x="93.6" y="1266.7">B</text><text class="lg" x="129.3" y="1266.7"><tspan class="it">q</tspan>DWT.TX2WOB-LG5 (Summer 2015)</text>
</g>
</g>

<!-- ================= LG6 ================= -->
<g id="LG6" transform="translate(1500,1500)">
<g id="lg6-scale">
<path class="axis" d="M1 97.3V1157"/><line class="minor" x1="10" y1="96.6" x2="10" y2="1150"/><line class="major" x1="19.5" y1="96.6" x2="19.5" y2="1125"/>
<text class="rl" x="47" y="107.3">0</text><text class="rl" x="47" y="156">5</text><text class="rl" x="47" y="204.6">10</text><text class="rl" x="47" y="253.3">15</text><text class="rl" x="47" y="302">20</text><text class="rl" x="47" y="350.6">25</text><text class="rl" x="47" y="399.3">30</text><text class="rl" x="47" y="448">35</text><text class="rl" x="47" y="496.6">40</text><text class="rl" x="47" y="545.3">45</text><text class="rl" x="47" y="594">50</text><text class="rl" x="47" y="642.6">55</text><text class="rl" x="47" y="691.3">60</text><text class="rl" x="47" y="740">65</text><text class="rl" x="47" y="788.6">70</text><text class="rl" x="47" y="837.3">75</text><text class="rl" x="47" y="886">80</text><text class="rl" x="47" y="934.6">85</text><text class="rl" x="47" y="983.3">90</text><text class="rl" x="47" y="1032">95</text><text class="rl" x="47" y="1080.6">100</text><text class="rl" x="47" y="1129.3">105</text>
</g>
<text class="ttl" x="368" y="36">LG6</text>
<g id="lg6-chromosome">
<path class="chr" d="M349 97.3V899.7A19.5 19.5 0 0 0 388 899.7V97.3A19.5 19.5 0 0 0 349 97.3Z"/>
<path class="band" d="M349 103h39M349 110h39M349 115h39M349 118h39M349 124h39M349 131h39M349 137h39M349 143h39M349 147h39M349 151h39M349 157h39M349 163h39M349 170h39M349 176h39M349 181h39M349 185h39M349 190h39M349 196h39M349 202h39M349 208h39M349 213h39M349 217h39M349 222h39M349 228h39M349 234h39M349 240h39M349 245h39M349 249h39M349 253h39M349 259h39M349 265h39M349 271h39M349 276h39M349 280h39M349 285h39M349 291h39M349 296h39M349 300h39M349 304h39M349 309h39M349 314h39M349 319h39M349 323h39M349 327h39M349 331h39M349 336h39M349 341h39M349 345h39M349 349h39M349 353h39M349 358h39M349 363h39M349 368h39M349 372h39M349 376h39M349 381h39M349 386h39M349 390h39M349 395h39M349 400h39M349 404h39M349 409h39M349 413h39M349 418h39M349 423h39M349 428h39M349 433h39M349 438h39M349 443h39M349 448h39M349 453h39M349 457h39M349 462.2h39M349 466.7h39M349 471.2h39M349 475.6h39M349 484.6h39M349 509.1h39M349 520.3h39M349 531.4h39M349 538.1h39M349 547.1h39M349 551.5h39M349 556h39M349 569.4h39M349 573.8h39M349 577h39M349 580.5h39M349 585h39M349 588.6h39M349 590.4h39M349 592.1h39M349 593.9h39M349 600.6h39M349 605.1h39M349 611.8h39M349 616.3h39M349 618.5h39M349 622.9h39M349 627.4h39M349 634.1h39M349 638.6h39M349 643h39M349 647.5h39M349 652h39M349 656.4h39M349 660.9h39M349 672.1h39M349 678.8h39M349 683.2h39M349 687.7h39M349 692.1h39M349 703.3h39M349 707.8h39M349 712.2h39M349 716.7h39M349 721.2h39M349 725.6h39M349 730.1h39M349 734.6h39M349 739h39M349 743.5h39M349 748h39M349 752.4h39M349 754.6h39M349 759.1h39M349 763.6h39M349 768h39M349 772.5h39M349 790.4h39M349 832.8h39"/>
</g>
<g id="lg6-markers">
<text class="mk" x="311.5" y="507">chr06_43191913</text><text class="mk" x="311.5" y="572.6">chr06_51059685</text><text class="mk" x="311.5" y="675.3">chr06_61675827</text><text class="mk" x="311.5" y="708.7">chr06_63221219</text>
</g>
<g id="lg6-connectors">
<path class="con" d="M323 498H386M323 563.6H386M323 666.3H386M323 699.7H386"/>
</g>
<g id="lg6-qtl">
<path class="br" d="M404.5 498h8M408.5 498V563.6M404.5 563.6h8M404.5 666.3h8M408.5 666.3V699.7M404.5 699.7h8"/>
<text class="ql" x="420" y="531.4" transform="rotate(90 420 531.4)">A</text>
<text class="ql" x="420" y="685.4" transform="rotate(90 420 685.4)">B,C</text>
</g>
<g id="lg6-legend">
<rect class="box" x="108" y="1048.4" width="581" height="132"/>
<text class="lg" x="129.5" y="1085">A</text><text class="lg" x="165" y="1085"><tspan class="it">q</tspan>Diam.TX2WOB-LG6.1 (Summer 2021)</text>
<text class="lg" x="129.5" y="1125">B</text><text class="lg" x="165" y="1125"><tspan class="it">q</tspan>Diam.TX2WOB-LG6.2 (Summer 2015)</text>
<text class="lg" x="129.5" y="1165">C</text><text class="lg" x="165" y="1165"><tspan class="it">q</tspan>Diam.TX2WOB-LG6.2 (Mean 2015)</text>
</g>
</g>
</svg>
